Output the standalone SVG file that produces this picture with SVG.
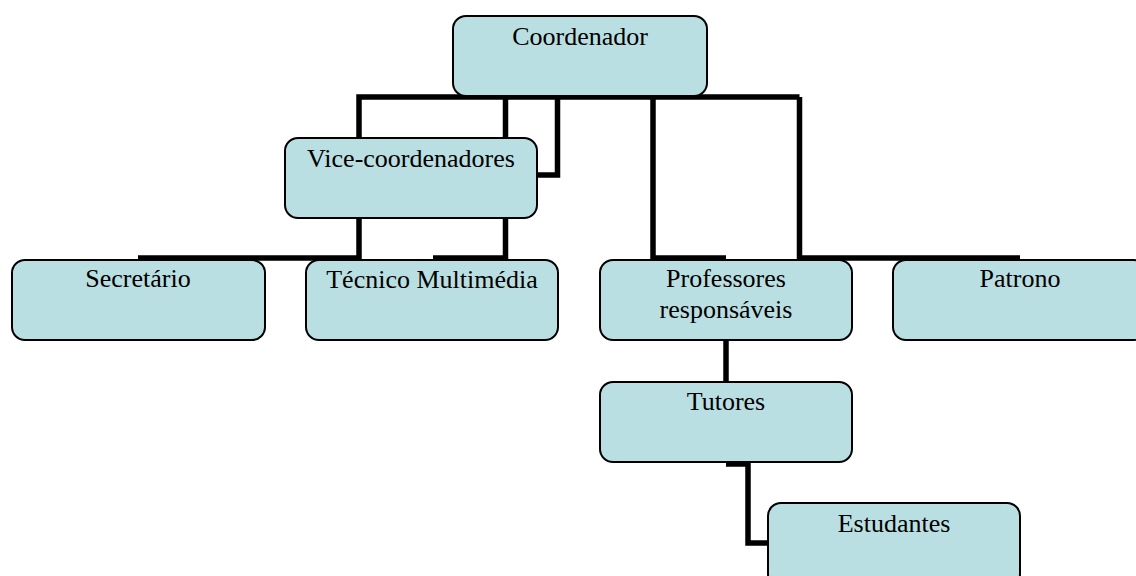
<svg xmlns="http://www.w3.org/2000/svg" width="1136" height="576" viewBox="0 0 1136 576">
<style>
.box{fill:#b9dfe2;stroke:#000;stroke-width:2}
.lbl{font-family:"Liberation Serif","Times New Roman",serif;font-size:26px;fill:#000;text-anchor:middle}
.con{fill:none;stroke:#000;stroke-width:5.5;stroke-linejoin:miter}
</style>
<rect width="1136" height="576" fill="#fff"/>
<g id="connectors">
<path class="con" d="M359 138 V97 H799.5"/>
<path class="con" d="M505.5 138 V97"/>
<path class="con" d="M537 175 H557.5 V97"/>
<path class="con" d="M726 258 H653 V97"/>
<path class="con" d="M1020 258 H799.5 V97"/>
<path class="con" d="M138 258 H359 V218"/>
<path class="con" d="M433 258 H505.5 V218"/>
<path class="con" d="M726 340 V382"/>
<path class="con" d="M726 464 H748 V543 H768"/>
</g>
<g id="coordenador"><rect class="box" x="453" y="16" width="254" height="80" rx="13"/><text class="lbl" x="580" y="45">Coordenador</text></g>
<g id="vice"><rect class="box" x="285" y="138" width="252" height="80" rx="13"/><text class="lbl" x="411" y="167">Vice-coordenadores</text></g>
<g id="secretario"><rect class="box" x="12" y="260" width="253" height="80" rx="13"/><text class="lbl" x="138" y="287">Secretário</text></g>
<g id="tecnico"><rect class="box" x="306" y="260" width="252" height="80" rx="13"/><text class="lbl" x="432" y="288">Técnico Multimédia</text></g>
<g id="professores"><rect class="box" x="600" y="260" width="252" height="80" rx="13"/><text class="lbl" x="726" y="287">Professores</text><text class="lbl" x="726" y="318">responsáveis</text></g>
<g id="patrono"><rect class="box" x="893" y="260" width="254" height="80" rx="13"/><text class="lbl" x="1020" y="287">Patrono</text></g>
<g id="tutores"><rect class="box" x="600" y="382" width="252" height="80" rx="13"/><text class="lbl" x="726" y="410">Tutores</text></g>
<g id="estudantes"><rect class="box" x="768" y="503" width="252" height="84" rx="13"/><text class="lbl" x="894" y="532">Estudantes</text></g>
</svg>
